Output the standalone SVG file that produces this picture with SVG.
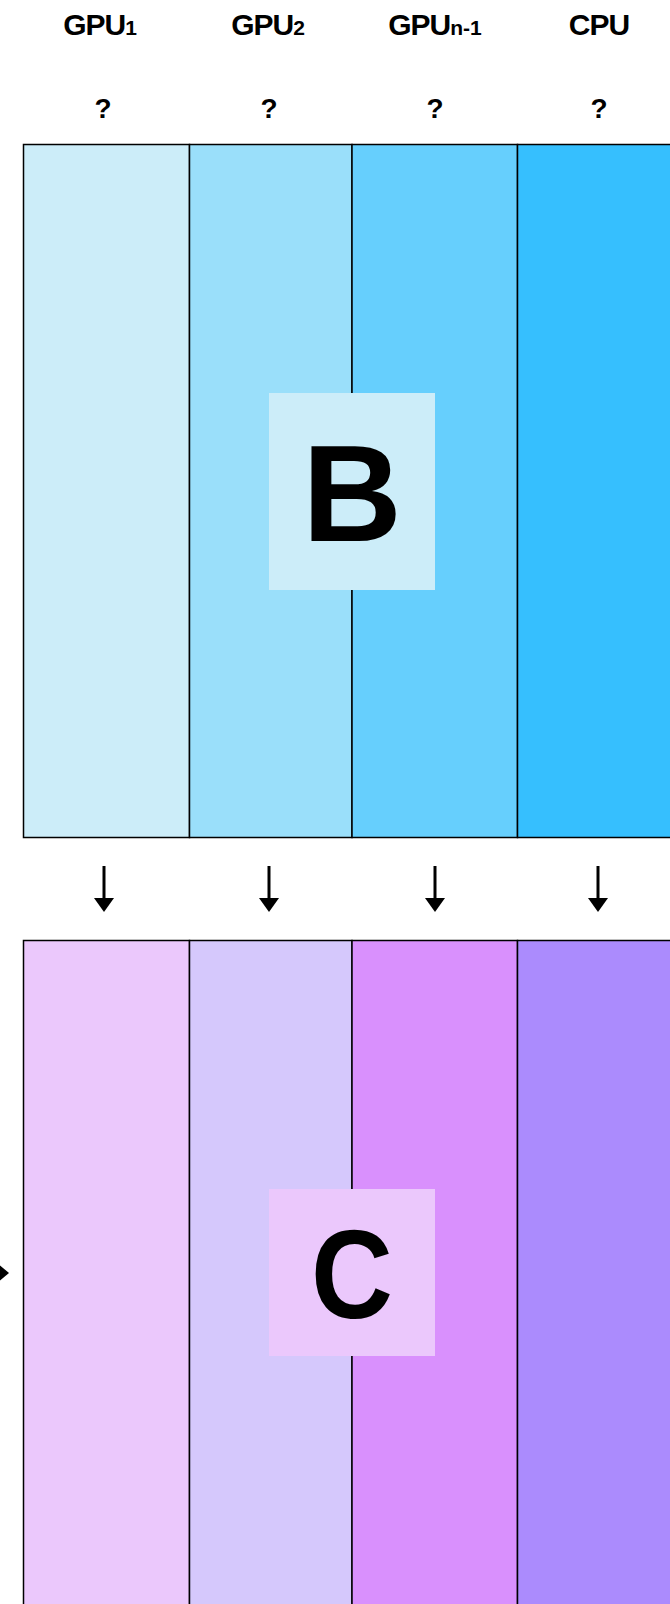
<svg xmlns="http://www.w3.org/2000/svg" width="670" height="1604" viewBox="0 0 670 1604">
<style>
.hd{font-family:"Liberation Sans",Arial,sans-serif;font-weight:bold;font-size:30px;fill:#000;text-anchor:middle;letter-spacing:-1px}
.sub{font-size:21px;letter-spacing:0}
.q{font-family:"Liberation Sans",Arial,sans-serif;font-weight:bold;font-size:28px;fill:#000;text-anchor:middle}
.col{stroke:#000;stroke-width:1.5}
.big{font-family:"Liberation Sans",Arial,sans-serif;font-weight:bold;fill:#000;text-anchor:middle}
.arr{stroke:#000;stroke-width:3;fill:none}
.head{fill:#000}
</style>
<g id="headers">
<text class="hd" x="100" y="35">GPU<tspan class="sub">1</tspan></text>
<text class="hd" x="268" y="35">GPU<tspan class="sub">2</tspan></text>
<text class="hd" x="435" y="35">GPU<tspan class="sub">n-1</tspan></text>
<text class="hd" x="599" y="35">CPU</text>
<text class="q" x="103" y="118">?</text>
<text class="q" x="269" y="118">?</text>
<text class="q" x="435" y="118">?</text>
<text class="q" x="599" y="118">?</text>
</g>
<g id="B">
<rect class="col" x="23.5" y="144.5" width="166" height="693" fill="#CCEDF9"/>
<rect class="col" x="189.5" y="144.5" width="162.5" height="693" fill="#9ADFFA"/>
<rect class="col" x="352" y="144.5" width="165.5" height="693" fill="#66CFFD"/>
<rect class="col" x="517.5" y="144.5" width="170" height="693" fill="#36BFFE"/>
<rect x="269" y="393" width="166" height="197" fill="#CCEDF9"/>
<text class="big" x="352" y="541" font-size="138">B</text>
</g>
<g id="C">
<rect class="col" x="23.5" y="940.5" width="166" height="680" fill="#EBC8FC"/>
<rect class="col" x="189.5" y="940.5" width="162.5" height="680" fill="#D5C8FC"/>
<rect class="col" x="352" y="940.5" width="165.5" height="680" fill="#D990FD"/>
<rect class="col" x="517.5" y="940.5" width="170" height="680" fill="#AB8BFD"/>
<rect x="269" y="1189" width="166" height="167" fill="#EBC8FC"/>
<text class="big" transform="translate(352,1318) scale(0.9,1)" x="0" y="0" font-size="126">C</text>
</g>
<g id="connectors">
<line class="arr" x1="104" y1="866" x2="104" y2="900"/>
<path class="head" d="M94,898 L114,898 L104,912 Z"/>
<line class="arr" x1="269" y1="866" x2="269" y2="900"/>
<path class="head" d="M259,898 L279,898 L269,912 Z"/>
<line class="arr" x1="435" y1="866" x2="435" y2="900"/>
<path class="head" d="M425,898 L445,898 L435,912 Z"/>
<line class="arr" x1="598" y1="866" x2="598" y2="900"/>
<path class="head" d="M588,898 L608,898 L598,912 Z"/>
<path class="head" d="M-4,1262 L9,1273 L-4,1284 Z"/>
</g>
</svg>
